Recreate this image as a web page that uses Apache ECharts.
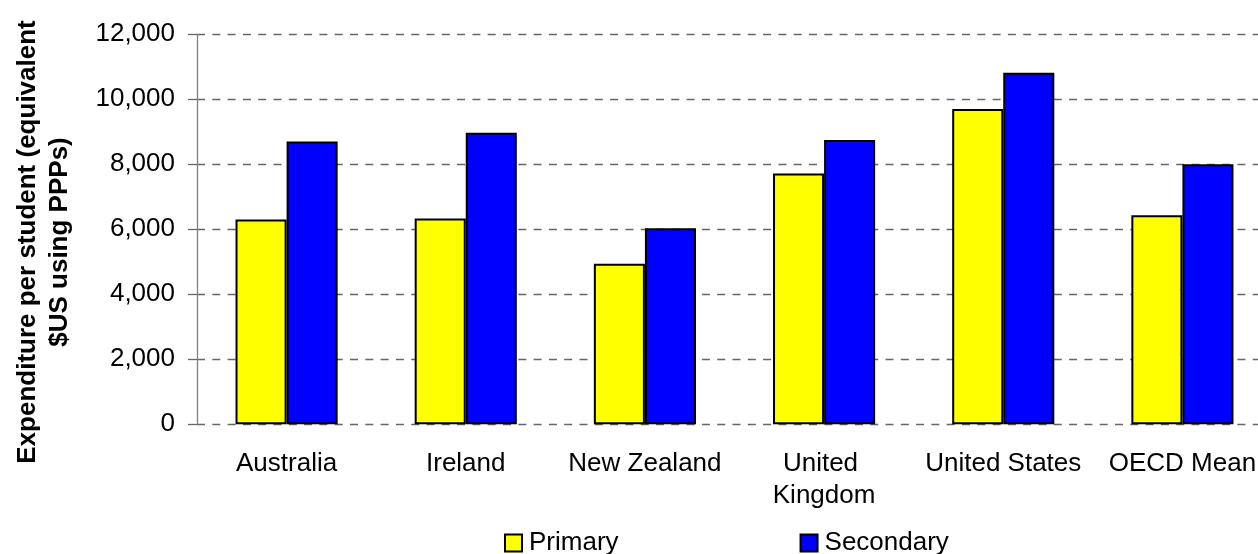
<!DOCTYPE html>
<html>
<head>
<meta charset="utf-8">
<script src="https://cdn.jsdelivr.net/npm/echarts@6/dist/echarts.min.js"></script>
<style>
html,body{margin:0;padding:0;background:#fff;overflow:hidden;width:1258px;height:554px;}
#chart{width:1280px;height:554px;}
</style>
</head>
<body>
<div id="chart"></div>
<script>
const categories = ['Australia', 'Ireland', 'New Zealand', 'United Kingdom', 'United States', 'OECD Mean'];
const primary = [6300, 6330, 4940, 7720, 9700, 6430];
const secondary = [8700, 8970, 6030, 8750, 10820, 8000];
const seriesNames = ['Primary', 'Secondary'];
const yTitle = 'Expenditure per student (equivalent\n$US using PPPs)';

const FONT = '"Liberation Sans", Arial, sans-serif';
const chart = echarts.init(document.getElementById('chart'));
chart.setOption({
  animation: false,
  backgroundColor: '#ffffff',
  grid: { left: 197, top: 34.3, width: 1075, height: 390, containLabel: false },
  legend: {
    data: seriesNames,
    left: 499,
    top: 525,
    itemWidth: 17,
    itemHeight: 17,
    itemGap: 181,
    icon: 'rect',
    textStyle: { fontFamily: FONT, fontSize: 26, color: '#000', padding: [0, 0, 0, 2] }
  },
  graphic: [{
    type: 'text',
    x: 44,
    y: 242,
    rotation: Math.PI / 2,
    style: {
      text: yTitle,
      fontFamily: FONT,
      fontSize: 26,
      fontWeight: 'bold',
      fill: '#000',
      align: 'center',
      verticalAlign: 'middle',
      lineHeight: 32
    }
  }],
  xAxis: {
    type: 'category',
    data: categories,
    axisLine: { show: false },
    axisTick: { show: false },
    axisLabel: {
      interval: 0,
      margin: 24,
      fontFamily: FONT,
      fontSize: 26,
      color: '#000',
      lineHeight: 32,
      width: 172,
      overflow: 'break'
    }
  },
  yAxis: {
    type: 'value',
    min: 0,
    max: 12000,
    interval: 2000,
    axisLine: { show: true, lineStyle: { color: '#808080', width: 1.3 } },
    axisTick: { show: true, length: 9, lineStyle: { color: '#666', width: 1.3 } },
    axisLabel: {
      margin: 22,
      fontFamily: FONT,
      fontSize: 26,
      color: '#000',
      formatter: v => v.toLocaleString('en-US')
    },
    splitLine: { show: true, lineStyle: { color: '#666', width: 1.3, type: [8, 7.3] } }
  },
  series: [
    {
      name: seriesNames[0],
      type: 'bar',
      data: primary,
      barGap: '0%',
      barCategoryGap: '43%',
      itemStyle: { color: '#ffff00', borderColor: '#000', borderWidth: 2 }
    },
    {
      name: seriesNames[1],
      type: 'bar',
      data: secondary,
      barGap: '0%',
      barCategoryGap: '43%',
      itemStyle: { color: '#0000ff', borderColor: '#000', borderWidth: 2 }
    }
  ]
});
</script>
</body>
</html>
